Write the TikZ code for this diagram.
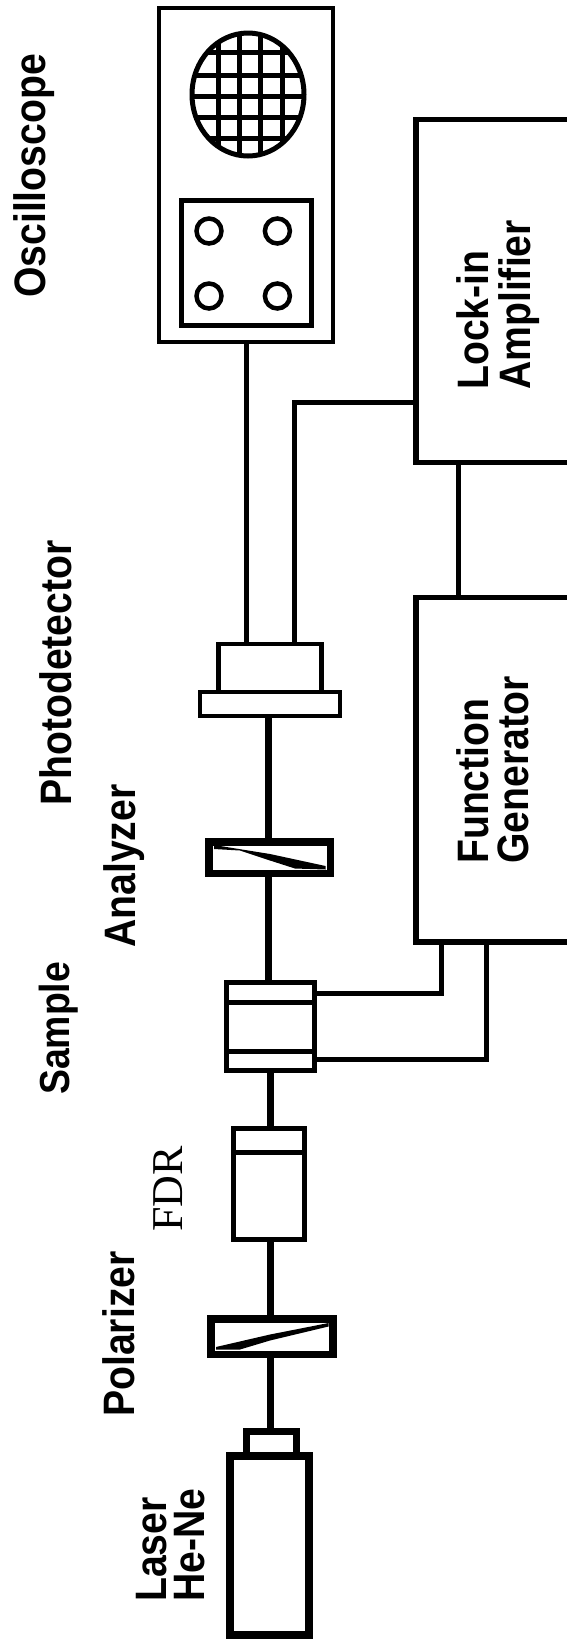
\documentclass[tikz,border=0pt]{standalone}
\usepackage{fontspec}
\usepackage{tikz}
\usetikzlibrary{calc}
\usetikzlibrary{positioning}
\usetikzlibrary{shapes.geometric}
\newfontfamily\labelfont{Liberation Sans Bold}[FakeStretch=0.89]
\newfontfamily\serifbold{Liberation Serif}
\tikzset{box/.style={draw,rectangle,inner sep=0pt,outer sep=0pt,line width=#1}}
\tikzset{box/.default=5pt}
\tikzset{knob/.style={draw,circle,inner sep=0pt,outer sep=0pt,line width=4.5pt,minimum size=25pt}}
\tikzset{wire/.style={line width=5pt}}
\tikzset{beam/.style={line width=7.5pt}}
\tikzset{lbl/.style={rotate=90,inner sep=0pt,anchor=base west,align=left,
                     font=\labelfont\fontsize{44}{40}\selectfont}}
\begin{document}
\begin{tikzpicture}[x=1pt,y=-1pt]
   \useasboundingbox (0,0) rectangle (567,1642);

   \node[box=4.5pt,minimum width=174pt,minimum height=334pt] (Scope) at (246,175) {};
   \node[box,minimum width=129.5pt,minimum height=125pt] (Panel) at (246.25,263) {};
   \node[knob] (K1) at (209,231) {};
   \node[knob] (K2) at (277.4,231) {};
   \node[knob] (K3) at (209,296) {};
   \node[knob] (K4) at (277.4,296) {};
   \begin{scope}
      \clip (248,94.5) ellipse [x radius=57pt,y radius=62.5pt];
      \foreach \gx in {218,239,260,282}
         \draw[line width=5pt] (\gx,20) -- (\gx,170);
      \foreach \gy in {52,75,96,117,138}
         \draw[line width=5pt] (180,\gy) -- (315,\gy);
   \end{scope}
   \node[draw,ellipse,line width=5pt,inner sep=0pt,minimum width=112pt,minimum height=123pt] (Screen) at (248,94.5) {};

   \node[box=5.5pt,minimum width=159pt,minimum height=343pt] (Lock) at (495.5,291) {};
   \node[box=5.5pt,minimum width=159pt,minimum height=344.5pt] (Gen) at (495.5,769.8) {};

   \node[box=4.5pt,minimum width=103pt,minimum height=48pt] (PDbody) at (270,668) {};
   \node[box=4.5pt,minimum width=140pt,minimum height=24pt] (PDbase) at (270,704) {};
   \node[box=7.5pt,minimum width=121.5pt,minimum height=31.5pt] (Analyzer) at (269.75,857.5) {};
   \node[box,minimum width=88pt,minimum height=88.5pt] (Sample) at (270.5,1026.25) {};
   \node[box,minimum width=71pt,minimum height=111pt] (FDR) at (268.5,1183.5) {};
   \node[box=7.5pt,minimum width=122pt,minimum height=35.5pt] (Polarizer) at (272,1336.5) {};
   \node[box=7pt,minimum width=49.5pt,minimum height=25pt] (Head) at (271.25,1443.5) {};
   \node[box=8pt,minimum width=78.5pt,minimum height=179pt] (Laser) at (269.25,1545) {};

   \draw[line width=5pt] (Sample.west |- 0,1002.5) -- (Sample.east |- 0,1002.5);
   \draw[line width=5pt] (Sample.west |- 0,1051) -- (Sample.east |- 0,1051);
   \draw[line width=5pt] (FDR.west |- 0,1152.5) -- (FDR.east |- 0,1152.5);
   \fill (214,845) -- (270,854) -- (325.5,866) -- (325.5,869.5) -- (295,868.5) -- (270,860.5) -- (240,850.5) -- (214,849) -- cycle;
   \fill (216,1347) -- (270,1334.5) -- (328.5,1323) -- (328.5,1326.5) -- (270,1340.5) -- (240,1349.5) -- (216,1349.5) -- cycle;

   \coordinate (BeamA) at (268.5,0);
   \coordinate (BeamB) at (270.5,0);
   \coordinate (LockIn) at (416,402.7);
   \coordinate (PDout) at (294.8,644);
   \coordinate (LinkTop) at (458.6,462.7);
   \coordinate (GenA) at (441,942);
   \coordinate (GenB) at (486.4,942);
   \coordinate (SampleA) at (314.5,993.7);
   \coordinate (SampleB) at (314.5,1059.5);

   \path[wire]
      (Scope.south) edge (PDbody.north -| Scope.south)
      (LinkTop) edge (LinkTop |- Gen.north);
   \draw[wire] (LockIn) -| (PDout);
   \draw[wire] (GenA) |- (SampleA);
   \draw[wire] (GenB) |- (SampleB);

   \path[beam]
      (PDbase.south -| BeamA) edge (Analyzer.north -| BeamA)
      (Analyzer.south -| BeamA) edge (Sample.north -| BeamA)
      (Sample.south -| BeamB) edge (FDR.north -| BeamB)
      (FDR.south -| BeamB) edge (Polarizer.north -| BeamB)
      (Polarizer.south -| BeamB) edge (Head.north -| BeamB);

   \node[lbl] (OscText) at (45.5,298) {Oscilloscope};
   \node[lbl] (LockText) at (530,390) {Lock-in\\[2pt]Amplifier};
   \node[lbl] (PDText) at (71.5,806) {Photodetector};
   \node[lbl] (AnaText) at (135.5,948) {Analyzer};
   \node[lbl,font=\labelfont\fontsize{42}{40}\selectfont] (SamText) at (69,1095) {Sample};
   \node[lbl] (GenText) at (528,864) {Function\\Generator};
   \node[lbl,font=\serifbold\fontsize{44}{44}\selectfont] (FDRText) at (182.5,1232) {FDR};
   \node[lbl] (PolText) at (134,1417) {Polarizer};
   \node[lbl] (LaserText) at (204,1602) {Laser\\[-2pt]He-Ne};
\end{tikzpicture}
\end{document}
